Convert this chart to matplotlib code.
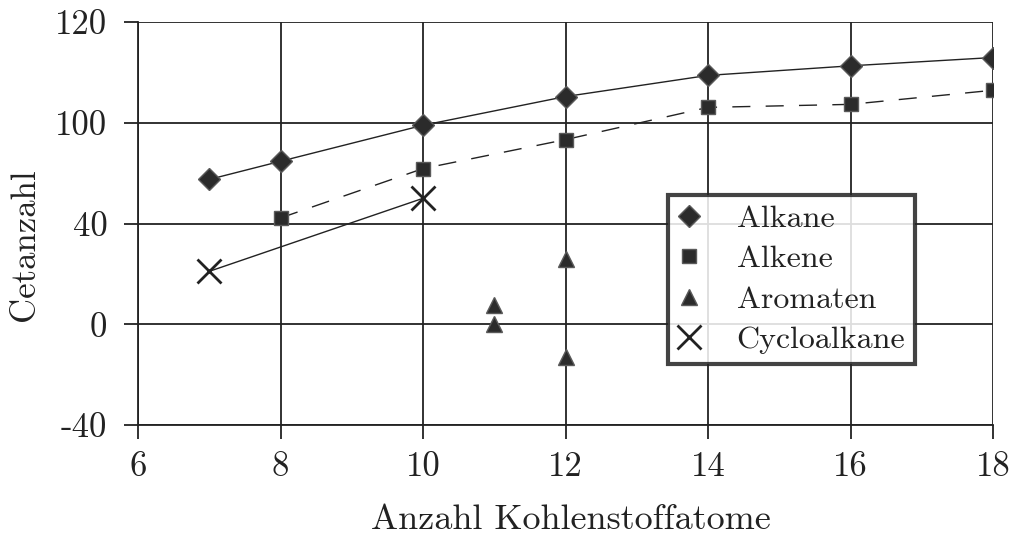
import matplotlib
matplotlib.use("Agg")
import matplotlib.pyplot as plt

# Cetane numbers vs. number of carbon atoms
alkane_c = [7, 8, 10, 12, 14, 16, 18]
alkane_cz = [57.5, 64.7, 79, 90.4, 98.8, 102.6, 105.9]

alkene_c = [8, 10, 12, 14, 16, 18]
alkene_cz = [42.2, 61.8, 73.3, 86.1, 87.3, 92.9]

aromat_c = [11, 11, 12, 12]
aromat_cz = [7.5, 0, 26, -13]

cyclo_c = [7, 10]
cyclo_cz = [21, 50]

x_ticks = [6, 8, 10, 12, 14, 16, 18]
y_ticks = [-40, 0, 40, 80, 120]
y_ticklabels = ["-40", "0", "40", "100", "120"]

plt.rcParams["font.family"] = "cmr10"
plt.rcParams["mathtext.fontset"] = "cm"
plt.rcParams["axes.unicode_minus"] = False

INK = "#222222"
FILL = "#2b2b2b"
EDGE = "#5a5a5a"

fig = plt.figure(figsize=(10.09, 5.42), dpi=100)
ax = fig.add_axes([138 / 1009, 1 - 425 / 542, (993 - 138) / 1009, (425 - 22) / 542])

ax.set_xlim(6, 18)
ax.set_ylim(-40, 120)
ax.set_xticks(x_ticks)
ax.set_yticks(y_ticks)
ax.set_yticklabels(y_ticklabels)
ax.grid(True, color=INK, linewidth=1.3)
ax.set_axisbelow(True)
for side in ("top", "right"):
    ax.spines[side].set_visible(False)
for side in ("left", "bottom"):
    ax.spines[side].set_color(INK)
    ax.spines[side].set_linewidth(1.3)
ax.tick_params(axis="both", direction="out", length=10, width=1.3, color=INK,
               labelsize=25, labelcolor=INK)
ax.tick_params(axis="y", pad=12)
ax.tick_params(axis="x", pad=9)

# connecting lines
ax.plot(alkane_c, alkane_cz, "-", color=INK, linewidth=1.0, zorder=3)
ax.plot(alkene_c, alkene_cz, color=INK, linewidth=1.0, dashes=(13, 11), zorder=3)
ax.plot(cyclo_c, cyclo_cz, "-", color=INK, linewidth=1.0, zorder=3)

# markers
ax.plot(alkane_c, alkane_cz, ls="none", marker="D", markersize=11,
        markerfacecolor=FILL, markeredgecolor=EDGE, markeredgewidth=1.0,
        label="Alkane", zorder=4)
ax.plot(alkene_c, alkene_cz, ls="none", marker="s", markersize=10.5,
        markerfacecolor=FILL, markeredgecolor=EDGE, markeredgewidth=1.0,
        label="Alkene", zorder=4)
ax.plot(aromat_c, aromat_cz, ls="none", marker="^", markersize=11.5,
        markerfacecolor=FILL, markeredgecolor=EDGE, markeredgewidth=1.0,
        label="Aromaten", zorder=4)
ax.plot(cyclo_c, cyclo_cz, ls="none", marker="x", markersize=17,
        markeredgecolor=INK, markeredgewidth=2.0,
        label="Cycloalkane", zorder=4)

ax.set_xlabel("Anzahl Kohlenstoffatome", fontsize=26, color=INK)
ax.set_ylabel("Cetanzahl", fontsize=25, color=INK)
ax.xaxis.set_label_coords(0.506, -0.236)
ax.xaxis.label.set_verticalalignment("center")
ax.yaxis.set_label_coords(-0.132, 0.447)
ax.yaxis.label.set_verticalalignment("center")

leg = ax.legend(loc="upper left", bbox_to_anchor=(668 / 1009, 1 - 195 / 542),
                bbox_transform=fig.transFigure, borderaxespad=0,
                fontsize=23, handlelength=0.7, handletextpad=1.15,
                borderpad=0.3, labelspacing=0.38, fancybox=False,
                framealpha=0.85, edgecolor=INK, numpoints=1)
leg.get_frame().set_linewidth(3.0)
for t in leg.get_texts():
    t.set_color(INK)

fig.savefig("out.png", dpi=100)
